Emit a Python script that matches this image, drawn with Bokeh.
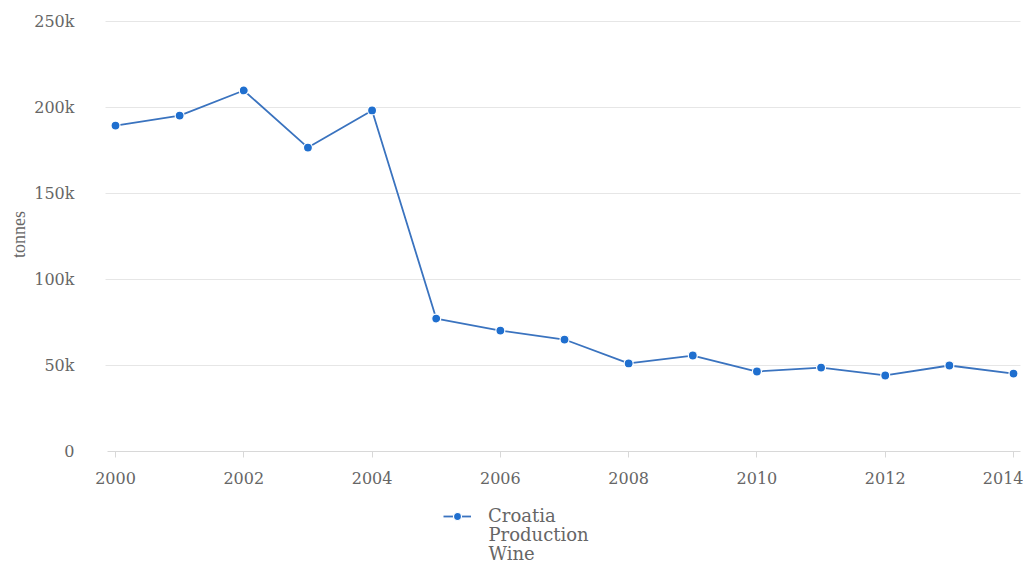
import math
from bokeh.plotting import figure
from bokeh.models import Range1d, FixedTicker, Legend, LegendItem, Label
from bokeh.embed import file_html
from bokeh.resources import INLINE

years = list(range(2000, 2015))
production = [189500, 195300, 209900, 176700, 198300, 77300, 70300, 65100,
              51200, 55800, 46500, 48800, 44200, 50000, 45300]
y_ticks = [0, 50000, 100000, 150000, 200000, 250000]
y_tick_labels = ["0", "50k", "100k", "150k", "200k", "250k"]
x_ticks = [2000, 2002, 2004, 2006, 2008, 2010, 2012, 2014]
series_lines = ["Croatia", "Production", "Wine"]
y_label = "tonnes"

FONT = "DejaVu Serif"
TXT = "#666666"

# plot area bounds (data units)
X0, X1 = 1999.844, 2014.11

# frame covers the whole canvas so texts below the axis are not clipped
p = figure(width=1023, height=563, output_backend="svg", toolbar_location=None,
           x_range=Range1d(1998.2071, 2014.1557), y_range=Range1d(-65116, 262209),
           min_border_left=0, min_border_right=0, min_border_top=0,
           min_border_bottom=0)
p.outline_line_color = None
p.background_fill_color = "white"
p.border_fill_color = "white"

line = p.line(years, production, line_color="#3a73bf", line_width=1.8)
pts = p.scatter(years, production, size=9, fill_color="#1f6fcf",
                line_color="white", line_width=1.2)

p.xgrid.grid_line_color = None
p.ygrid.ticker = FixedTicker(ticks=y_ticks[1:])
p.ygrid.grid_line_color = "#e6e6e6"
p.ygrid.grid_line_width = 1
p.ygrid.cross_bounds = (X0, X1)

p.yaxis.fixed_location = X0
p.yaxis.ticker = FixedTicker(ticks=y_ticks)
p.yaxis.major_label_overrides = {t: l for t, l in zip(y_ticks, y_tick_labels)}
p.yaxis.axis_line_color = None
p.yaxis.major_tick_line_color = None
p.yaxis.minor_tick_line_color = None
p.yaxis.major_label_standoff = 25
p.yaxis.major_label_text_font = FONT
p.yaxis.major_label_text_font_size = "16px"
p.yaxis.major_label_text_color = TXT

p.add_layout(Label(x=18, y=563 - 234, x_units="screen", y_units="screen",
                   text=y_label, angle=math.pi / 2, text_font="Liberation Serif",
                   text_font_size="18px", text_color=TXT,
                   text_align="center", text_baseline="middle"))

p.xaxis.fixed_location = 0
p.xaxis.bounds = (X0 + 0.03, X1)
p.xaxis.ticker = FixedTicker(ticks=x_ticks)
p.xaxis.axis_line_color = "#d8d8d8"
p.xaxis.major_tick_line_color = "#d8d8d8"
p.xaxis.major_tick_in = 0
p.xaxis.major_tick_out = 6
p.xaxis.minor_tick_line_color = None
p.xaxis.major_label_standoff = 14
p.xaxis.major_label_text_font = FONT
p.xaxis.major_label_text_font_size = "16px"
p.xaxis.major_label_text_color = TXT

legend = Legend(items=[LegendItem(label=series_lines[0], renderers=[line, pts])],
                location=(443, 37), orientation="horizontal",
                label_text_font=FONT, label_text_font_size="18px",
                label_text_color=TXT, border_line_color=None,
                background_fill_alpha=0, glyph_width=28, glyph_height=20,
                label_standoff=17, label_height=20,
                margin=0, padding=0)
p.add_layout(legend, "center")

for i, txt in enumerate(series_lines[1:], start=1):
    p.add_layout(Label(x=488, y=48 - 19 * i, x_units="screen", y_units="screen",
                       text=txt, text_font=FONT, text_font_size="18px",
                       text_color=TXT, text_baseline="middle", text_align="left"))

open("out.html", "w").write(file_html(p, INLINE))
